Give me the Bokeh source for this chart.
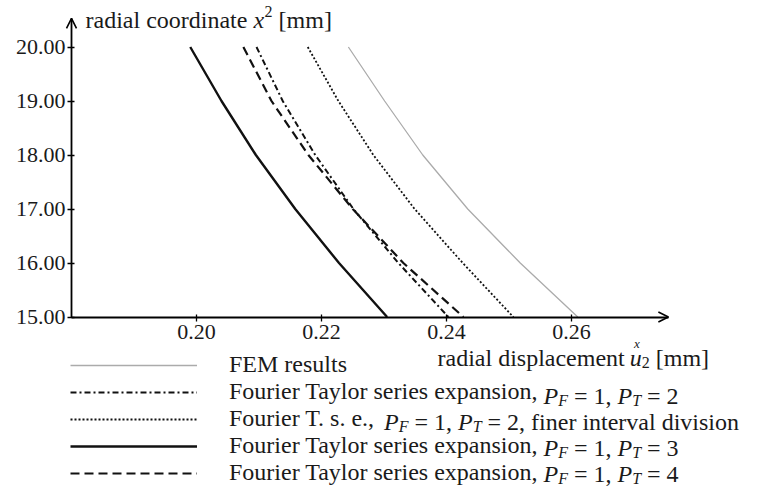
from bokeh.plotting import figure
from bokeh.models import (Range1d, FixedTicker, Label, Arrow, OpenHead, Legend,
                          LegendItem, NumeralTickFormatter)
from bokeh.embed import file_html
from bokeh.resources import INLINE

# ---------------- data ----------------
radius = [20.0, 19.0, 18.0, 17.0, 16.0, 15.0]          # radial coordinate x^2 [mm]
u_fem = [0.2243, 0.2301, 0.2362, 0.2434, 0.2518, 0.2610]   # FEM results
u_pt2 = [0.2096, 0.2138, 0.2190, 0.2251, 0.2323, 0.2403]   # P_F=1, P_T=2
u_pt2_fine = [0.2178, 0.2227, 0.2283, 0.2349, 0.2426, 0.2507]  # finer interval division
u_pt3 = [0.1990, 0.2040, 0.2095, 0.2158, 0.2228, 0.2305]   # P_F=1, P_T=3
u_pt4 = [0.2075, 0.2120, 0.2179, 0.2250, 0.2331, 0.2427]   # P_F=1, P_T=4
x_ticks = [0.20, 0.22, 0.24, 0.26]
y_ticks = [15, 16, 17, 18, 19, 20]
legend_prefixes = ["FEM results",
                   "Fourier Taylor series expansion,",
                   "Fourier T. s. e.,",
                   "Fourier Taylor series expansion,",
                   "Fourier Taylor series expansion,"]
pt_values = [None, "2", "2", "3", "4"]
legend_suffix_fine = ", finer interval division"

FONT = "Liberation Serif"
FS = 24
SUB = 16
TXT = "#1a1a1a"
W, H = 757, 491

# axis extents (data units)
AX0, AX1 = 0.18, 0.2755
AY0, AY1 = 15.0, 20.53
# whole-canvas frame; mapping: 0.20 -> px 196, 0.02 per 125 px; 20 -> px 46.5, 1 per 54 px
XPX0, XPX_PER = 196.0, 6250.0
YPX20, YPX_PER = 46.5, 54.0
x_range = Range1d(0.20 - XPX0 / XPX_PER, 0.20 + (W - XPX0) / XPX_PER)
y_range = Range1d(20 - (H - YPX20) / YPX_PER, 20 + YPX20 / YPX_PER)

p = figure(width=W, height=H, output_backend="svg", toolbar_location=None,
           x_range=x_range, y_range=y_range,
           min_border=0, min_border_left=0, min_border_right=0,
           min_border_top=0, min_border_bottom=0, outline_line_color=None,
           background_fill_color="white", border_fill_color="white")
p.xgrid.visible = False
p.ygrid.visible = False

p.xaxis.fixed_location = AY0
p.yaxis.fixed_location = AX0
p.xaxis.bounds = (AX0, AX1)
p.yaxis.bounds = (AY0, AY1)
for ax, ticks in ((p.xaxis, x_ticks), (p.yaxis, y_ticks)):
    ax.ticker = FixedTicker(ticks=ticks)
    ax.formatter = NumeralTickFormatter(format="0.00")
    ax.axis_line_width = 1.8
    ax.axis_line_color = "black"
    ax.major_tick_in = 3
    ax.major_tick_out = 4
    ax.major_tick_line_width = 1.3
    ax.major_tick_line_color = "black"
    ax.minor_tick_line_color = None
    ax.major_label_text_font = FONT
    ax.major_label_text_font_size = "22px"
    ax.major_label_text_color = TXT
p.yaxis.major_label_standoff = 2
p.xaxis.major_label_standoff = 4

# arrow heads at the axis ends
p.add_layout(Arrow(end=OpenHead(size=10, line_width=1.6, line_color="black"),
                   x_start=AX1 - 0.004, y_start=AY0, x_end=AX1, y_end=AY0, line_alpha=0))
p.add_layout(Arrow(end=OpenHead(size=10, line_width=1.6, line_color="black"),
                   x_start=AX0, y_start=AY1 - 0.3, x_end=AX0, y_end=AY1, line_alpha=0))

r_fem = p.line(u_fem, radius, line_color="#ababab", line_width=1.3)
r_pt2 = p.line(u_pt2, radius, line_color="#111111", line_width=2.0, line_dash="6 3 2 3")
r_fine = p.line(u_pt2_fine, radius, line_color="#111111", line_width=1.8, line_dash="2 2")
r_pt3 = p.line(u_pt3, radius, line_color="#111111", line_width=2.4)
r_pt4 = p.line(u_pt4, radius, line_color="#111111", line_width=2.2, line_dash="9 5")
renderers = [r_fem, r_pt2, r_fine, r_pt3, r_pt4]

# ---------------- text width helper (Times metrics) ----------------
REG = {' ': 250, ',': 250, '.': 250, '[': 333, ']': 333, '=': 564,
       'F': 556, 'E': 611, 'M': 889, 'T': 611,
       'a': 444, 'c': 444, 'd': 500, 'e': 444, 'f': 333, 'i': 278, 'l': 278,
       'm': 778, 'n': 500, 'o': 500, 'p': 500, 'r': 333, 's': 389, 't': 278,
       'u': 500, 'v': 500, 'x': 500, 'y': 500}
for d in "0123456789":
    REG[d] = 500
ITA = {'P': 611, 'F': 611, 'T': 556, 'x': 444, 'u': 500}
# widths of the legend prefixes as the browser draws them (px at 24px)
PREFIX_PX = {"Fourier Taylor series expansion,": 308.0, "Fourier T. s. e.,": 148.5}


def w(s, size=FS, italic=False):
    tab = ITA if italic else REG
    return sum(tab.get(c, 500) for c in s) * size / 1000.0


def lab(x, y, text, size=FS, italic=False):
    # x, y in picture pixels from the top-left corner
    p.add_layout(Label(x=x, y=H - y, x_units="screen", y_units="screen", text=text,
                       text_font=FONT, text_font_size=f"{size}px",
                       text_font_style="italic" if italic else "normal",
                       text_color=TXT, text_align="left", text_baseline="middle"))


# y axis title: radial coordinate x^2 [mm]
cx, cy = 85, 19
lab(cx, cy, "radial coordinate")
cx += w("radial coordinate ")
lab(cx, cy, "x", italic=True)
cx += w("x", italic=True) + 0.5
lab(cx, cy - 8, "2", size=SUB)
cx += w("2", SUB) + w(" ")
lab(cx, cy, "[mm]")

# x axis title: radial displacement u_2 (with x over u) [mm]
cx, cy = 437, 357
lab(cx, cy, "radial displacement")
cx += w("radial displacement ") - 1
lab(cx, cy, "u", italic=True)
lab(cx + (w("u", italic=True) - w("x", 13, True)) / 2 + 1, cy - 14, "x", size=13, italic=True)
cx += w("u", italic=True)
lab(cx, cy + 5, "2", size=SUB)
cx += w("2", SUB) + w(" ")
lab(cx, cy, "[mm]")

# ---------------- legend ----------------
ROW0, ROWH = 369, 26
TXT_X = 229
items = [LegendItem(label=legend_prefixes[i], renderers=[renderers[i]]) for i in range(5)]
legend = Legend(items=items,
                location=(70, H - (ROW0 + 4 * ROWH + ROWH / 2)),
                orientation="vertical", glyph_width=127, glyph_height=ROWH,
                label_height=ROWH, spacing=0, padding=0, margin=0,
                label_standoff=TXT_X - 70 - 127, border_line_alpha=0,
                background_fill_alpha=0,
                label_text_font=FONT, label_text_font_size=f"{FS}px",
                label_text_color=TXT)
p.add_layout(legend)

for i in range(1, 5):
    row_y = ROW0 + i * ROWH
    cx = TXT_X + PREFIX_PX[legend_prefixes[i]] + w(" ")
    lab(cx, row_y, "P", italic=True)
    cx += w("P", italic=True)
    lab(cx, row_y + 5, "F", size=SUB, italic=True)
    cx += w("F", SUB, True) + w(" ")
    lab(cx, row_y, "= 1,")
    cx += w("= 1, ")
    lab(cx, row_y, "P", italic=True)
    cx += w("P", italic=True)
    lab(cx, row_y + 5, "T", size=SUB, italic=True)
    cx += w("T", SUB, True) + w(" ")
    tail = "= " + pt_values[i] + (legend_suffix_fine if i == 2 else "")
    lab(cx, row_y, tail)

open("out.html", "w").write(file_html(p, INLINE))
